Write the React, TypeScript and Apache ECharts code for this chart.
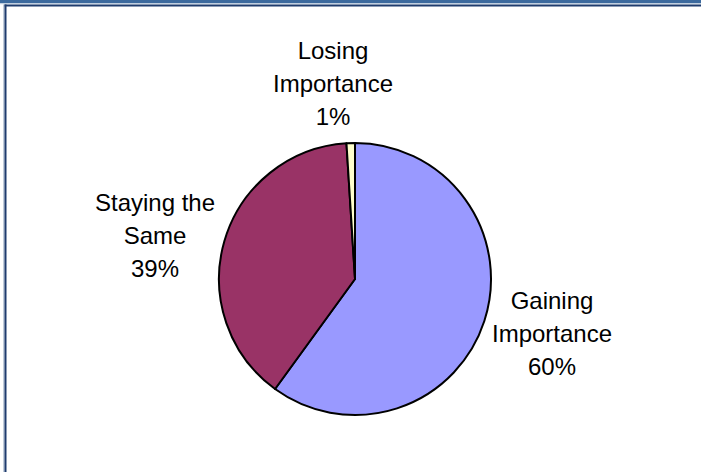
import React, { useEffect, useRef } from "react";
import * as echarts from "echarts";

const categories = ["Gaining\nImportance", "Staying the\nSame", "Losing\nImportance"];
const values = [60, 39, 1];
const colors = ["#9999FF", "#993366", "#FFFFCC"];
// label centres (px) for each slice label, in category order
const labelPos: [number, number][] = [
  [552, 333],
  [155, 235],
  [333, 83],
];

export default function App() {
  const ref = useRef<HTMLDivElement>(null);
  useEffect(() => {
    document.body.style.margin = "0";
    const chart = echarts.init(ref.current!, undefined, { renderer: "svg" });
    chart.setOption({
      animation: false,
      backgroundColor: "#ffffff",
      graphic: [
        { type: "rect", shape: { x: 0, y: 0, width: 701, height: 3.5 }, style: { fill: "#3C6A9E" }, silent: true },
        { type: "rect", shape: { x: 0, y: 3.5, width: 701, height: 1 }, style: { fill: "#E4EAF2" }, silent: true },
        { type: "rect", shape: { x: 4.5, y: 4.5, width: 696.5, height: 2 }, style: { fill: "#1F3C6E" }, silent: true },
        { type: "rect", shape: { x: 3.3, y: 4.5, width: 1.2, height: 468 }, style: { fill: "#A9B8CC" }, silent: true },
        { type: "rect", shape: { x: 4.5, y: 4.5, width: 2, height: 468 }, style: { fill: "#1F3C6E" }, silent: true },
      ],
      series: [
        {
          type: "pie",
          center: [355, 279],
          radius: 136,
          startAngle: 90,
          clockwise: true,
          avoidLabelOverlap: false,
          itemStyle: { borderColor: "#000000", borderWidth: 2 },
          emphasis: { disabled: true },
          label: {
            show: true,
            position: "outside",
            formatter: (p: any) => {
              const lines = (p.name as string).split("\n");
              lines.push(Math.round(p.percent) + "%");
              return lines.map((l) => "{t|" + l + "}").join("\n");
            },
            rich: {
              t: {
                fontFamily: "Liberation Sans, Arial, sans-serif",
                fontSize: 24,
                lineHeight: 33,
                color: "#000000",
                align: "center",
              },
            },
          },
          labelLine: { show: false },
          labelLayout: (p: any) => ({
            x: labelPos[p.dataIndex][0],
            y: labelPos[p.dataIndex][1],
            align: "center",
            verticalAlign: "middle",
          }),
          data: categories.map((name, i) => ({
            name,
            value: values[i],
            itemStyle: { color: colors[i] },
          })),
        },
      ],
    });
    return () => chart.dispose();
  }, []);
  return (
    <div
      ref={ref}
      style={{ position: "absolute", left: 0, top: 0, width: 701, height: 472 }}
    />
  );
}
